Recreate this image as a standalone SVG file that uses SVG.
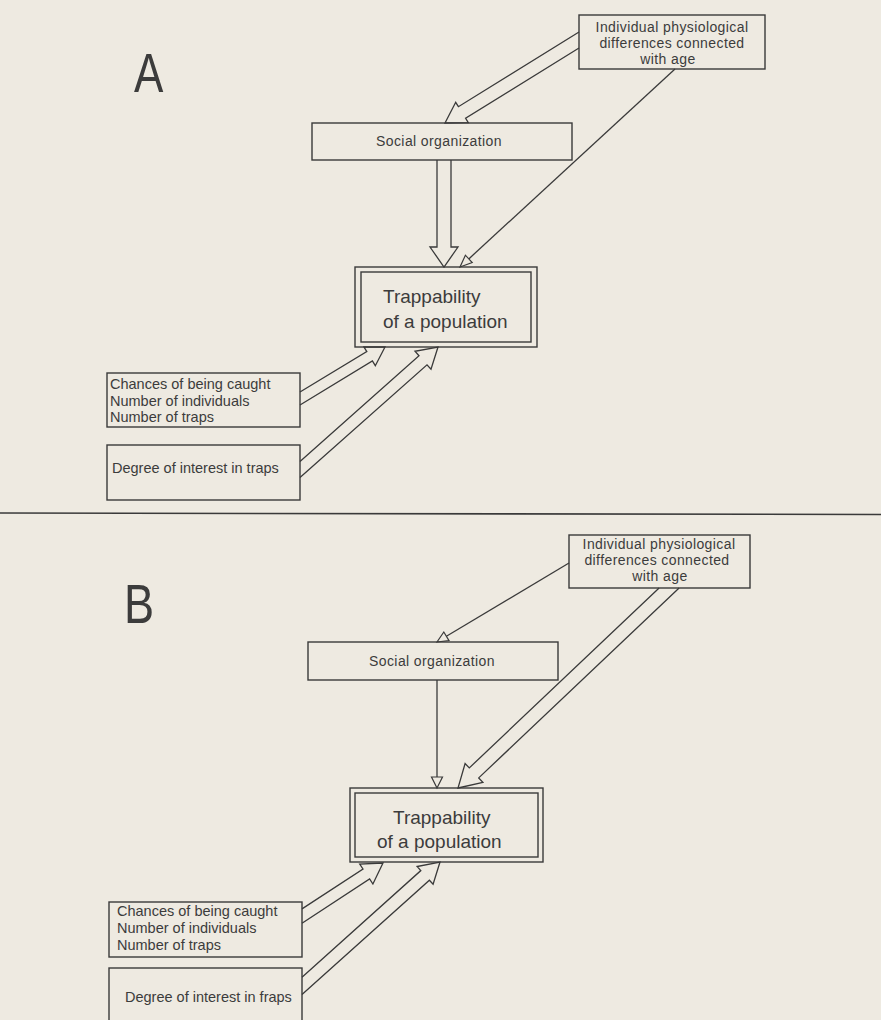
<svg xmlns="http://www.w3.org/2000/svg" width="881" height="1020" viewBox="0 0 881 1020">
<style>
.bg{fill:#eeeae1}
.box{fill:none;stroke:#3a3a3a;stroke-width:1.4}
.arr{fill:none;stroke:#3a3a3a;stroke-width:1.3;stroke-linejoin:miter}
.head{fill:#eeeae1;stroke:#3a3a3a;stroke-width:1.2}
.t{font-family:"Liberation Sans",Arial,sans-serif;fill:#3c3c3c}
.s{font-size:14px;letter-spacing:0.4px}
.m{font-size:14.5px}
.l{font-size:19px}
.big{font-size:55px}
.c{text-anchor:middle}
</style>
<rect class="bg" x="0" y="0" width="881" height="1020"/>
<text class="t big" transform="translate(134,92) scale(0.8,1)">A</text>
<text class="t big" transform="translate(124,623) scale(0.82,1)">B</text>
<line x1="0" y1="513" x2="881" y2="514.5" stroke="#3a3a3a" stroke-width="1.6"/>

<g id="connectors">
<polyline class="arr" points="579,32 458.4,106.7 455.7,102.3 445,123 468.3,122.7 465.6,118.3 579,48"/>
<polyline class="arr" points="437,160 437,247 430,247 444,267 458,247 451,247 451,160"/>
<line class="arr" x1="675" y1="69" x2="468.8" y2="258.9"/>
<polygon class="head" points="460,267 472.2,262.6 465.4,255.2"/>
<polyline class="arr" points="300,392 366.8,351.6 363.9,346.9 385,347 375.3,365.7 372.4,361 300,405"/>
<polyline class="arr" points="300,461.4 419,355.8 415,351.3 438,347 431,369.3 427,364.8 300,477.5"/>

<line class="arr" x1="569" y1="563" x2="446.4" y2="636.3"/>
<polygon class="head" points="437,642 449,640.6 443.8,632"/>
<line class="arr" x1="437" y1="680" x2="437" y2="777"/>
<polygon class="head" points="437,788 431.5,777 442.5,777"/>
<polyline class="arr" points="659.1,588 469.3,767.9 465.1,763.5 458,788 482.9,782.3 478.7,777.9 679.1,588"/>
<polyline class="arr" points="302,908.9 363,869 359.7,864 383,863 372.9,884 369.6,879 302,923.3"/>
<polyline class="arr" points="302,977.3 420.8,870.6 417.1,866.5 440,862 433.1,884.3 429.4,880.2 302,994.6"/>
</g>

<g id="a-age">
<rect class="box" x="579" y="15" width="186" height="54"/>
<text class="t s c" x="672" y="32">Individual physiological</text>
<text class="t s c" x="672" y="48">differences connected</text>
<text class="t s c" x="668" y="64">with age</text>
</g>
<g id="a-social">
<rect class="box" x="312" y="123" width="260" height="37"/>
<text class="t s c" x="439" y="146">Social organization</text>
</g>
<g id="a-trap">
<rect class="box" x="355" y="267" width="182" height="80"/>
<rect class="box" x="361" y="272" width="170" height="70"/>
<text class="t l" x="383" y="303">Trappability</text>
<text class="t l" x="383" y="328">of  a population</text>
</g>
<g id="a-chances">
<rect class="box" x="107" y="373" width="193" height="54"/>
<text class="t m" x="110" y="389">Chances of being caught</text>
<text class="t m" x="110" y="406">Number of individuals</text>
<text class="t m" x="110" y="422">Number of traps</text>
</g>
<g id="a-degree">
<rect class="box" x="107" y="445" width="193" height="55"/>
<text class="t m" x="112" y="473">Degree of interest in traps</text>
</g>

<g id="b-age">
<rect class="box" x="569" y="535" width="181" height="53"/>
<text class="t s c" x="659" y="549">Individual  physiological</text>
<text class="t s c" x="657" y="565">differences connected</text>
<text class="t s c" x="660" y="581">with age</text>
</g>
<g id="b-social">
<rect class="box" x="308" y="642" width="250" height="38"/>
<text class="t s c" x="432" y="666">Social organization</text>
</g>
<g id="b-trap">
<rect class="box" x="350" y="788" width="193" height="74"/>
<rect class="box" x="355" y="793" width="183" height="64"/>
<text class="t l" x="393" y="824">Trappability</text>
<text class="t l" x="377" y="848">of  a population</text>
</g>
<g id="b-chances">
<rect class="box" x="109" y="902" width="193" height="55"/>
<text class="t m" x="117" y="916">Chances of being caught</text>
<text class="t m" x="117" y="933">Number of individuals</text>
<text class="t m" x="117" y="950">Number of traps</text>
</g>
<g id="b-degree">
<rect class="box" x="109" y="968" width="193" height="60"/>
<text class="t m" x="125" y="1002">Degree of interest in fraps</text>
</g>
</svg>
